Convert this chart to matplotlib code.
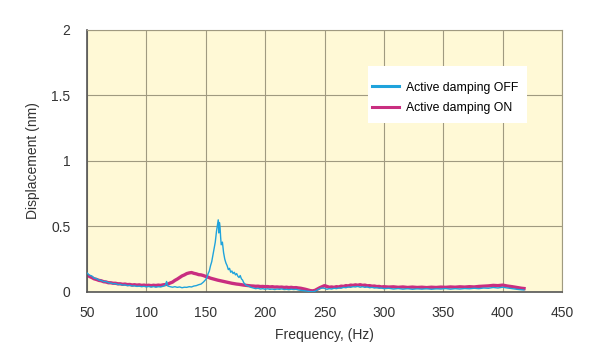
import matplotlib
matplotlib.use("Agg")
import matplotlib.pyplot as plt
from matplotlib.patches import Rectangle
from matplotlib.ticker import FuncFormatter

plt.rcParams['font.family'] = ['Liberation Sans', 'DejaVu Sans']

# Active damping OFF (blue)
freq_off = [50, 52, 54, 56, 58, 60, 62, 64, 66, 68, 70, 72, 74, 76, 78, 80, 82, 84, 86, 88,
            90, 92, 94, 96, 98, 100, 102, 104, 106, 108, 110, 112, 114, 116, 117, 118, 120, 122, 124, 126,
            128, 130, 132, 134, 136, 138, 140, 142, 144, 146, 148, 150, 151, 152, 153, 154, 155, 156, 157, 158,
            159, 160, 160.5, 161, 161.5, 162, 162.5, 163, 164, 165, 166, 167, 168, 169, 170, 171, 172, 173, 174, 175,
            176, 177, 178, 179, 180, 181, 182, 184, 186, 188, 190, 192, 194, 196, 198, 200, 202, 204, 206, 208,
            210, 212, 214, 216, 218, 220, 222, 224, 226, 228, 230, 232, 234, 236, 238, 240, 242, 244, 246, 248,
            250, 252, 254, 256, 258, 260, 262, 264, 266, 268, 270, 272, 274, 276, 278, 280, 282, 284, 286, 288,
            290, 292, 294, 296, 298, 300, 304, 308, 312, 316, 320, 324, 328, 332, 336, 340, 344, 348, 352, 356,
            360, 364, 368, 372, 376, 380, 384, 388, 392, 396, 400, 404, 408, 412, 416, 418]
disp_off = [0.145, 0.128, 0.122, 0.105, 0.102, 0.090, 0.088, 0.078, 0.080, 0.070, 0.068, 0.062, 0.064, 0.056, 0.058, 0.052, 0.054, 0.048, 0.050, 0.045,
            0.047, 0.042, 0.044, 0.040, 0.043, 0.038, 0.042, 0.037, 0.041, 0.036, 0.040, 0.038, 0.043, 0.050, 0.080, 0.045, 0.040, 0.036, 0.040, 0.035,
            0.038, 0.032, 0.036, 0.035, 0.040, 0.038, 0.045, 0.048, 0.055, 0.060, 0.075, 0.095, 0.110, 0.140, 0.160, 0.200, 0.230, 0.280, 0.330, 0.380,
            0.460, 0.520, 0.550, 0.450, 0.530, 0.500, 0.420, 0.360, 0.380, 0.300, 0.250, 0.220, 0.200, 0.170, 0.180, 0.150, 0.160, 0.140, 0.150, 0.130,
            0.140, 0.120, 0.110, 0.125, 0.100, 0.090, 0.070, 0.050, 0.045, 0.035, 0.030, 0.025, 0.028, 0.022, 0.025, 0.020, 0.024, 0.020, 0.022, 0.018,
            0.022, 0.020, 0.023, 0.018, 0.020, 0.017, 0.021, 0.018, 0.020, 0.015, 0.012, 0.010, 0.008, 0.005, 0.003, 0.002, 0.005, 0.015, 0.025, 0.030,
            0.028, 0.020, 0.025, 0.022, 0.028, 0.025, 0.030, 0.028, 0.035, 0.032, 0.038, 0.035, 0.040, 0.038, 0.042, 0.036, 0.040, 0.035, 0.038, 0.032,
            0.035, 0.030, 0.032, 0.028, 0.030, 0.025, 0.028, 0.022, 0.026, 0.021, 0.025, 0.020, 0.024, 0.021, 0.025, 0.020, 0.024, 0.022, 0.026, 0.021,
            0.025, 0.022, 0.026, 0.024, 0.028, 0.025, 0.030, 0.028, 0.034, 0.030, 0.036, 0.030, 0.025, 0.020, 0.016, 0.015]

# Active damping ON (magenta)
freq_on = [50, 52, 54, 56, 58, 60, 62, 64, 66, 68, 70, 72, 74, 76, 78, 80, 82, 84, 86, 88,
           90, 92, 94, 96, 98, 100, 102, 104, 106, 108, 110, 112, 114, 116, 118, 120, 122, 124, 126, 128,
           130, 132, 134, 136, 138, 140, 142, 144, 146, 148, 150, 152, 154, 156, 158, 160, 162, 164, 166, 168,
           170, 172, 174, 176, 178, 180, 182, 184, 186, 188, 190, 192, 194, 196, 198, 200, 202, 204, 206, 208,
           210, 212, 214, 216, 218, 220, 222, 224, 226, 228, 230, 232, 234, 236, 238, 240, 242, 244, 246, 248,
           250, 252, 254, 256, 258, 260, 262, 264, 266, 268, 270, 272, 274, 276, 278, 280, 282, 284, 286, 288,
           290, 292, 294, 296, 298, 300, 304, 308, 312, 316, 320, 324, 328, 332, 336, 340, 344, 348, 352, 356,
           360, 364, 368, 372, 376, 380, 384, 388, 392, 396, 400, 404, 408, 412, 416, 418]
disp_on = [0.130, 0.118, 0.110, 0.100, 0.095, 0.088, 0.085, 0.078, 0.076, 0.070, 0.070, 0.066, 0.066, 0.062, 0.062, 0.058, 0.060, 0.056, 0.057, 0.053,
           0.055, 0.052, 0.054, 0.050, 0.052, 0.049, 0.051, 0.048, 0.051, 0.049, 0.052, 0.050, 0.054, 0.056, 0.060, 0.068, 0.075, 0.088, 0.098, 0.110,
           0.122, 0.130, 0.140, 0.145, 0.148, 0.142, 0.138, 0.132, 0.130, 0.125, 0.118, 0.112, 0.105, 0.100, 0.095, 0.090, 0.086, 0.082, 0.078, 0.074,
           0.070, 0.066, 0.063, 0.060, 0.058, 0.055, 0.052, 0.050, 0.048, 0.046, 0.045, 0.043, 0.044, 0.041, 0.042, 0.040, 0.041, 0.038, 0.040, 0.037,
           0.038, 0.036, 0.037, 0.034, 0.036, 0.033, 0.035, 0.032, 0.033, 0.030, 0.028, 0.024, 0.020, 0.015, 0.010, 0.008, 0.012, 0.022, 0.032, 0.040,
           0.048, 0.042, 0.036, 0.038, 0.035, 0.040, 0.038, 0.044, 0.042, 0.048, 0.046, 0.052, 0.050, 0.054, 0.051, 0.055, 0.050, 0.052, 0.047, 0.048,
           0.044, 0.045, 0.041, 0.042, 0.038, 0.040, 0.037, 0.039, 0.035, 0.038, 0.034, 0.037, 0.034, 0.036, 0.033, 0.036, 0.034, 0.037, 0.035, 0.038,
           0.036, 0.039, 0.037, 0.040, 0.038, 0.042, 0.044, 0.046, 0.050, 0.048, 0.052, 0.045, 0.040, 0.034, 0.028, 0.026]

x_ticks = [50, 100, 150, 200, 250, 300, 350, 400, 450]
y_ticks = [0, 0.5, 1, 1.5, 2]

fig = plt.figure(figsize=(5.96, 3.64), dpi=100)
ax = fig.add_axes([0.146, 0.198, 0.797, 0.720])
ax.set_facecolor('#fff9d6')

ax.plot(freq_off, disp_off, color='#1fa3dc', lw=1.0, label='Active damping OFF', zorder=3)
ax.plot(freq_on, disp_on, color='#c92e80', lw=2.4, label='Active damping ON', zorder=2)

ax.set_xlim(50, 450)
ax.set_ylim(0, 2)
ax.set_xticks(x_ticks)
ax.set_yticks(y_ticks)
ax.yaxis.set_major_formatter(FuncFormatter(lambda v, p: f'{v:g}'))
ax.tick_params(length=0, labelsize=10, colors='#333333')
ax.tick_params(axis='x', pad=10)
ax.tick_params(axis='y', pad=12)
ax.grid(True, color='#a09a80', lw=0.8)
ax.set_axisbelow(True)
for side in ['top', 'right']:
    ax.spines[side].set_color('#a09a80')
    ax.spines[side].set_linewidth(0.8)
for side in ['left', 'bottom']:
    ax.spines[side].set_color('#555555')
    ax.spines[side].set_linewidth(1.2)

ax.set_xlabel('Frequency, (Hz)', fontsize=10, color='#333333', labelpad=6)
ax.set_ylabel('Displacement (nm)', fontsize=10, color='#333333', labelpad=8)

# white box behind the legend
ax.add_patch(Rectangle((0.5916, 0.645), 0.3347, 0.2176, transform=ax.transAxes,
                       facecolor='white', edgecolor='none', zorder=4))
leg = ax.legend(loc='center left', bbox_to_anchor=(0.600, 0.74), borderaxespad=0,
                borderpad=0, fontsize=8.8, frameon=False,
                handlelength=2.2, handletextpad=0.6, labelspacing=0.7)
leg.set_zorder(5)
for line in leg.get_lines():
    line.set_linewidth(2.2)

fig.savefig('out.png', dpi=100)
